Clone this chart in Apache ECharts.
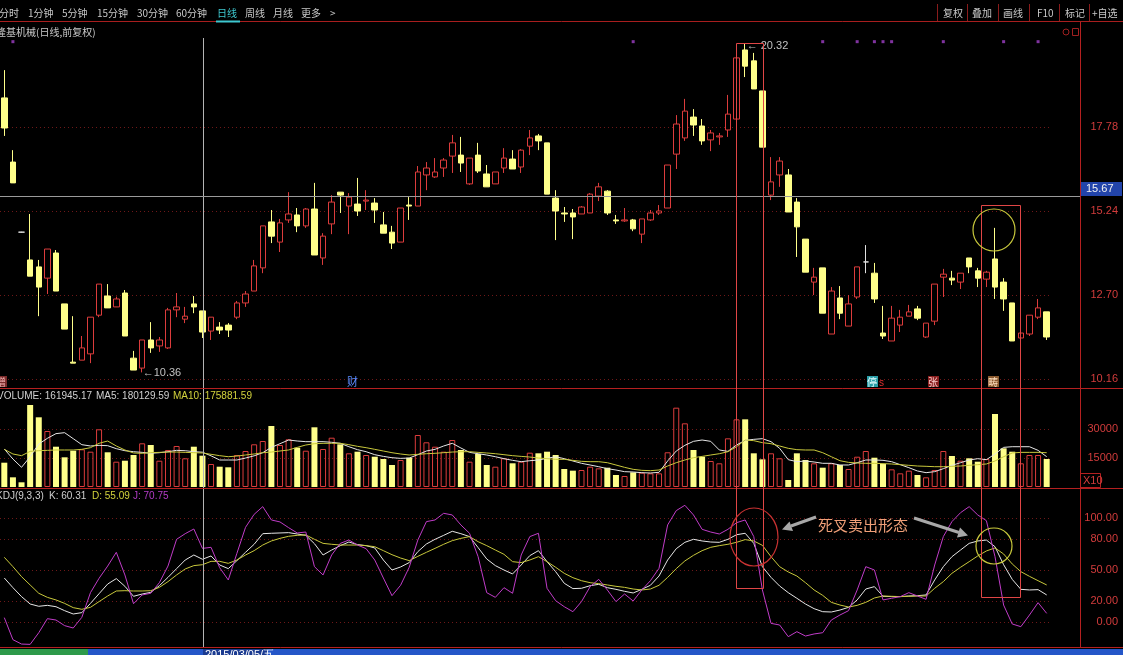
<!DOCTYPE html>
<html><head><meta charset="utf-8">
<script src="https://cdn.jsdelivr.net/npm/echarts@6/dist/echarts.min.js"></script>
<style>html,body{margin:0;padding:0;background:#000;overflow:hidden}#c{width:1123px;height:655px}</style>
</head><body><div id="c"></div>
<script>
// ---- price data (OHLC), one entry per trading day ----
const opens = [18.66,16.72,14.60,13.76,13.55,13.21,13.97,12.43,10.67,10.73,
10.92,12.09,12.67,12.34,12.76,10.79,10.49,11.34,11.16,11.10,
12.25,11.97,12.43,12.22,11.61,11.73,11.79,12.03,12.46,12.82,
13.52,14.91,14.30,14.97,15.12,14.79,15.30,13.82,14.85,15.81,
15.39,15.45,15.54,15.48,14.82,14.60,14.30,15.42,15.39,16.33,
16.27,16.54,16.90,16.93,16.06,16.93,16.36,16.06,16.54,16.81,
16.57,17.20,17.51,17.30,15.63,15.18,15.18,15.15,15.18,15.69,
15.84,14.97,14.94,14.97,14.54,14.97,15.18,15.33,16.96,17.45,
18.08,17.81,17.39,17.48,17.69,18.02,20.11,19.78,18.87,15.72,
16.33,16.33,15.51,14.39,13.09,13.52,11.52,12.61,11.76,12.64,
13.70,13.36,11.55,11.31,11.79,12.06,12.28,11.43,11.91,13.24,
13.21,13.09,13.82,13.43,13.18,13.79,13.09,12.46,11.40,11.52,
12.03,12.19];
const closes = [17.75,16.09,14.60,13.27,12.94,14.09,12.82,11.67,10.64,11.10,
12.03,13.03,12.31,12.58,11.46,10.43,11.34,11.10,11.34,12.25,
12.34,12.06,12.34,11.58,12.03,11.64,11.64,12.46,12.73,13.58,
14.79,14.48,14.88,15.15,14.79,15.30,13.91,14.48,15.51,15.72,
15.66,15.24,15.57,15.27,14.57,14.27,15.33,15.39,16.42,16.54,
16.42,16.78,17.30,16.69,16.84,16.45,15.97,16.42,16.84,16.51,
17.08,17.45,17.36,15.75,15.24,15.15,15.06,15.36,15.75,15.97,
15.18,14.94,14.97,14.70,15.00,15.18,15.24,16.63,17.87,18.26,
17.84,17.36,17.60,17.51,18.17,19.87,19.62,18.93,17.17,16.12,
16.75,15.21,14.76,13.39,13.24,12.15,12.82,12.15,12.43,13.55,
13.70,12.58,11.46,12.00,12.03,12.19,12.00,11.85,13.03,13.33,
13.15,13.36,13.55,13.21,13.39,12.94,12.58,11.31,11.55,12.09,
12.31,11.43];
const lows = [17.51,16.09,14.59,13.27,12.06,12.73,12.82,11.67,10.64,10.73,
10.64,12.03,12.31,12.34,11.46,10.43,10.36,10.95,10.98,11.07,
12.03,11.85,12.15,11.40,11.34,11.52,11.43,11.97,12.34,12.82,
13.36,14.27,14.00,14.88,14.60,14.73,13.91,13.61,14.54,15.18,
14.54,15.09,15.27,14.88,14.57,14.09,14.30,14.97,15.39,15.87,
16.24,16.27,16.39,16.42,16.03,16.39,15.97,16.06,16.39,16.51,
16.39,16.93,17.08,15.75,14.36,14.91,14.39,15.15,15.18,15.54,
15.12,14.85,14.91,14.63,14.27,14.94,15.12,15.33,16.51,17.36,
17.51,17.24,17.05,17.24,17.48,17.78,19.29,18.93,17.17,15.57,
15.97,15.21,13.85,13.39,12.70,12.15,11.52,11.97,11.76,12.58,
13.36,12.46,11.37,11.31,11.58,12.06,11.94,11.40,11.79,12.64,
13.00,12.88,13.36,12.94,12.94,12.58,12.22,11.31,11.01,11.46,
11.97,11.34];
const highs = [19.50,17.08,14.61,15.15,13.76,14.09,14.06,12.43,12.06,11.46,
12.03,13.03,13.03,12.65,12.85,11.01,11.34,11.88,11.43,12.31,
12.76,12.34,12.67,12.22,12.03,11.88,11.85,12.52,12.82,13.76,
14.79,15.27,15.00,15.81,15.33,15.33,16.09,14.57,15.72,15.81,
15.78,16.24,15.87,15.63,15.21,14.79,15.33,15.66,16.60,16.72,
16.84,16.84,17.54,17.48,16.84,17.30,16.63,16.42,17.14,17.08,
17.11,17.69,17.57,17.30,15.87,15.36,15.30,15.39,15.78,16.09,
15.87,15.12,15.33,15.00,15.00,15.27,15.42,16.63,18.14,18.63,
18.32,18.02,17.69,17.60,18.75,19.87,20.32,20.02,18.87,16.87,
16.87,16.51,15.63,14.39,13.52,13.52,12.94,12.97,12.70,13.55,
14.21,13.67,12.37,12.37,12.25,12.40,12.37,11.85,13.03,13.49,
13.43,13.36,13.82,13.52,13.43,14.73,13.21,12.46,11.67,12.09,
12.58,12.19];

// ---- volume (raw, axis shows x10) ----
const volumes = [125700,50100,24300,424100,360500,289600,208400,153600,187700,195000,
182600,298400,179500,130900,136000,165500,226000,217200,136000,191400,
212100,148400,208400,161945,119000,105000,101900,165500,186200,220800,
237900,315500,217200,246700,203300,187700,308800,196500,255000,220800,
174300,182600,165500,156700,144800,113800,139600,151500,268900,231200,
208400,182600,243100,191400,130900,170700,113800,105000,148400,122600,
130900,177400,174300,182600,165500,93100,84500,87900,105000,96500,
99900,62100,56900,75900,74100,70700,70700,179500,410300,329300,
191400,156700,134500,122600,251700,350000,350000,174300,143100,174300,
148400,36200,174300,139600,122600,99900,122600,113800,93100,156700,
186200,151500,119000,91400,70700,84500,62100,50100,87900,186200,
160300,136000,148400,130900,144800,377600,200100,182600,122600,165500,
165500,144800];
const volMA5 = [196500,144800,101900,156700,222400,251700,276000,281000,250000,218900,
212100,215500,213800,198300,187700,182600,179100,174300,177400,182600,
189600,187700,182600,180130,161200,139600,139600,139600,149800,161200,
177400,205000,224000,243100,237900,234500,234500,234500,231200,226000,
208400,193000,182600,167200,158400,151500,148100,149800,167200,186200,
194800,212100,226000,201800,179100,172200,165500,156700,146500,137900,
131000,136000,139600,148400,156700,146500,134500,122600,113800,105000,
94800,87900,79300,77600,74100,72400,75900,134500,186200,215500,
236200,243100,236200,191400,184300,217200,241400,246500,249900,234500,
200100,141300,131000,134500,129300,122600,122600,113800,113800,125700,
139600,139600,137900,131000,115500,100000,82800,74100,79300,94800,
112100,125700,139600,146500,141300,170700,205000,208400,208400,208400,
189600,156700];
const volMA10 = [194800,170700,162100,184300,187700,189600,191400,191400,191400,194800,
203400,226000,237900,212100,191400,175900,174300,177400,179100,180800,
180800,179100,177400,175882,169000,162100,156700,160000,165500,170700,
177400,180800,186200,191400,205000,217200,224000,226000,226000,226000,
218900,210300,203400,194800,186200,177400,170700,165500,169000,172200,
174300,177400,180800,182600,182600,179100,175900,172200,167200,162100,
158400,155000,149800,146500,143100,143100,137900,132700,131000,131000,
125700,113800,101700,91400,86200,84500,87900,108600,125700,139600,
151500,158400,165500,172200,182600,208400,243100,239700,229300,224000,
212100,200100,193100,191400,191400,177400,156700,136000,127400,124100,
122600,122600,120900,119000,115500,112100,108600,107000,105000,105000,
107000,108600,112100,115500,119000,134500,156700,175900,179100,179100,
179100,177400];

// ---- KDJ(9,3,3) ----
const kLine = [42.3,33.0,24.4,17.3,15.1,16.0,14.7,10.9,7.7,9.0,
17.9,27.2,36.5,41.7,34.3,24.7,26.9,28.5,34.9,42.9,
51.3,59.6,64.4,60.31,63.5,54.8,51.3,59.0,67.0,74.7,
84.9,85.3,85.6,85.9,84.6,83.3,75.3,64.4,69.2,73.4,
76.9,74.4,73.4,71.2,59.6,50.0,52.9,57.1,67.6,75.0,
79.5,83.3,87.2,84.9,82.1,71.5,60.6,54.2,50.0,46.2,
54.8,63.8,68.6,58.0,48.4,37.2,32.1,32.4,34.9,36.2,
33.0,31.4,29.5,27.9,31.4,35.3,44.2,59.6,70.5,76.6,
79.5,77.9,76.9,76.6,79.5,83.9,85.3,75.6,53.2,42.9,
34.6,28.2,22.8,17.3,12.8,9.9,9.6,11.5,14.1,21.2,
31.7,34.0,24.7,24.4,24.4,25.0,25.3,26.0,40.4,53.2,
62.8,69.2,75.6,77.9,78.8,72.4,55.1,41.0,31.4,30.8,
31.1,26.0];
const dLine = [62.2,53.2,43.6,35.6,27.6,23.7,21.2,17.9,13.8,12.2,
14.1,19.6,25.0,29.8,30.1,29.8,29.8,30.1,33.3,38.8,
45.2,51.0,54.2,55.09,58.3,58.3,56.4,59.6,64.4,68.6,
74.0,77.9,80.4,82.4,83.3,83.7,79.5,75.6,74.7,74.0,
74.0,74.0,73.4,72.4,68.6,64.7,61.5,59.0,63.1,67.0,
70.8,74.7,78.2,80.4,82.1,77.2,73.4,69.2,65.1,58.0,
57.1,59.6,62.8,58.0,52.6,46.8,42.6,39.7,37.8,36.9,
35.6,34.3,33.3,31.7,30.8,31.7,35.3,42.9,51.3,58.7,
64.1,68.6,71.8,73.4,74.7,76.6,79.2,77.9,73.7,62.8,
53.2,48.1,44.2,37.8,30.8,25.6,18.9,16.3,14.4,16.0,
18.9,23.1,25.0,24.7,24.4,24.7,25.0,25.0,32.4,38.8,
46.8,52.6,58.0,63.5,68.3,71.2,65.4,55.8,48.4,43.9,
39.7,35.6];
const jLine = [4.2,-17.0,-21.2,-21.5,-10.3,3.2,1.9,-3.5,-5.8,4.5,
28.2,42.0,53.8,67.0,45.2,17.6,26.0,27.6,37.8,53.8,
79.5,84.9,89.4,70.75,71.8,52.2,40.4,66.0,91.0,103.5,
110.9,98.1,96.2,90.7,85.6,86.5,53.2,45.2,64.4,75.6,
78.8,74.0,70.5,59.6,42.3,25.3,35.3,52.6,78.8,96.5,
98.1,104.5,102.9,93.3,85.3,62.8,28.2,23.7,33.0,27.6,
64.4,82.1,85.3,32.4,20.5,14.7,9.9,19.6,34.0,41.0,
30.8,19.6,26.9,20.2,30.8,39.7,51.6,93.3,107.1,112.2,
102.9,89.1,86.5,84.6,89.1,95.5,98.1,82.1,30.8,-1.3,
-2.9,-14.1,-9.3,-13.5,-11.5,-10.3,1.9,6.7,10.9,30.8,
53.2,50.0,21.2,22.8,24.4,28.2,25.0,21.8,54.8,82.1,
96.5,105.1,110.9,102.9,97.4,62.8,16.3,-1.9,-4.5,6.7,
18.6,8.3];

// ---- axis tick labels ----
const priceTicks = [10.16, 12.70, 15.24, 17.78];
const volTicks = [150000, 300000];
const kdjTicks = [0, 20, 50, 80, 100];
// days carrying small purple markers at the top of the price panel (1-based)
const markerDays = [2, 74, 96, 100, 102, 103, 104, 110, 117, 121];

const N = opens.length;
const cats = opens.map((_, i) => String(i + 1));
const UP = '#dc3c3c', DOWN = '#ffff8a', FLAT = '#e0e0e0';
const isUp = i => closes[i] > opens[i] || (closes[i] === opens[i] && i > 0 && closes[i] >= closes[i-1]);

const candleData = opens.map((o, i) => {
  const item = { value: [o, closes[i], lows[i], highs[i]] };
  if (o === closes[i]) item.itemStyle = { borderColor: FLAT, borderColor0: FLAT, color: FLAT, color0: FLAT };
  return item;
});
const volData = volumes.map((v, i) => ({
  value: v,
  itemStyle: isUp(i) ? { color: 'rgba(0,0,0,0)', borderColor: UP, borderWidth: 1 }
                     : { color: DOWN, borderColor: DOWN, borderWidth: 0 }
}));

const GL = -3, GW = 1054;
const gridLine = { show: true, lineStyle: { color: '#6e1818', type: [1, 3], width: 1 } };
const yLabel = (vals, fmt) => ({
  customValues: vals, formatter: fmt, color: '#d23c3c', fontSize: 11,
  fontFamily: 'Liberation Sans, Arial, sans-serif', align: 'right', margin: 38
});
const xCat = gi => ({ type: 'category', gridIndex: gi, data: cats, boundaryGap: true,
  axisLine: { show: false }, axisTick: { show: false }, axisLabel: { show: false }, splitLine: { show: false } });

const CJK = '"Noto Sans CJK SC", sans-serif';
const NUM = '"Liberation Sans", Arial, sans-serif';
function T(x, y, text, fill, size, font, extra) {
  return Object.assign({ type: 'text', x, y, silent: true, z: 50,
    style: { text, fill, font: size + 'px ' + (font || CJK), verticalAlign: 'middle', align: 'left' } }, extra || {});
}
function L(x1, y1, x2, y2, stroke, w, z) {
  return { type: 'line', silent: true, z: z || 40, shape: { x1, y1, x2, y2 }, style: { stroke, lineWidth: w || 1 } };
}
function R(x, y, w, h, stroke, fill, z) {
  return { type: 'rect', silent: true, z: z || 40, shape: { x, y, width: w, height: h },
    style: { stroke: stroke || null, fill: fill || null, lineWidth: 1 } };
}

const graphics = [];
// toolbar
const tb = [['分时', -1], ['1分钟', 28], ['5分钟', 62], ['15分钟', 97], ['30分钟', 137], ['60分钟', 176], ['周线', 245], ['月线', 273], ['更多', 301], ['>', 330]];
tb.forEach(t => graphics.push(T(t[1], 13, t[0], '#c8c8c8', 10)));
graphics.push(T(217, 13, '日线', '#3ec8d0', 10));
graphics.push(L(216, 21.5, 240, 21.5, '#3ec8d0', 2, 45));
const tr = [['复权', 943], ['叠加', 972], ['画线', 1003], ['F10', 1037], ['标记', 1065], ['+自选', 1092]];
tr.forEach(t => graphics.push(T(t[1], 13, t[0], '#c8c8c8', 10)));
[937, 967, 998, 1029, 1059, 1089].forEach(x => graphics.push(L(x + .5, 4, x + .5, 21, '#8a1c1c', 1)));
graphics.push(L(0, 21.5, 1123, 21.5, '#a81e1e', 1));
graphics.push(T(-4, 32, '隆基机械(日线,前复权)', '#c8c8c8', 10));
// small icons top right
graphics.push({ type: 'circle', silent: true, z: 40, shape: { cx: 1066, cy: 32, r: 3 }, style: { stroke: '#a02020', fill: null } });
graphics.push(R(1072.5, 28.5, 6, 7, '#a02020', null));
// panel frame
graphics.push(L(1080.5, 22, 1080.5, 648, '#b42020', 1));
graphics.push(L(0, 388.5, 1123, 388.5, '#b42020', 1));
graphics.push(L(0, 488.5, 1123, 488.5, '#b42020', 1));
graphics.push(L(0, 647.5, 1123, 647.5, '#b42020', 1));
graphics.push(R(1080.5, 473.5, 20, 14, '#b42020', null));
graphics.push(T(1083, 481, 'X10', '#d23c3c', 11, NUM));
// crosshair
graphics.push(L(203.5, 38, 203.5, 648, '#b4b4b4', 1, 30));
graphics.push(L(0, 196.5, 1080, 196.5, '#9a9a9a', 1, 30));
graphics.push(R(1081, 182, 41, 14, null, '#2244aa', 45));
graphics.push(T(1086, 189, '15.67', '#f0f0f0', 11, NUM, { z: 46 }));
// headers
graphics.push(T(-3, 396, 'VOLUME: 161945.17', '#d0d0d0', 10, NUM));
graphics.push(T(96, 396, 'MA5: 180129.59', '#d0d0d0', 10, NUM));
graphics.push(T(173, 396, 'MA10: 175881.59', '#d2d23c', 10, NUM));
graphics.push(T(-4, 496, 'KDJ(9,3,3)', '#d0d0d0', 10, NUM));
graphics.push(T(49, 496, 'K: 60.31', '#d0d0d0', 10, NUM));
graphics.push(T(92, 496, 'D: 55.09', '#d2d23c', 10, NUM));
graphics.push(T(133, 496, 'J: 70.75', '#b43cc8', 10, NUM));
// event tags along the bottom of the price panel
graphics.push(R(-4, 376, 11, 11, null, '#7a2a2a'));
graphics.push(T(-4, 382, '增', '#f0b0b0', 10));
graphics.push(T(347, 382, '财', '#5a8cff', 11));
graphics.push(R(867, 376, 11, 11, null, '#2a9ea8'));
graphics.push(T(867, 382, '停', '#e8ffff', 10));
graphics.push(T(879, 383, 's', '#e03030', 10, NUM));
graphics.push(R(928, 376, 11, 11, null, '#8a2020'));
graphics.push(T(928, 382, '张', '#ffd0d0', 10));
graphics.push(R(988, 376, 11, 11, null, '#8a5a30'));
graphics.push(T(988, 382, '畴', '#ffe0c0', 10));
// annotation boxes and circles
graphics.push(R(736.5, 43.5, 27, 545, '#e04646', null, 60));
graphics.push(R(981.5, 205.5, 39, 392, '#e04646', null, 60));
graphics.push({ type: 'circle', silent: true, z: 60, shape: { cx: 994, cy: 230, r: 21 }, style: { stroke: '#c8c83c', fill: null, lineWidth: 1.2 } });
graphics.push({ type: 'ellipse', silent: true, z: 60, shape: { cx: 754, cy: 537, rx: 24, ry: 29 }, style: { stroke: '#c83232', fill: null, lineWidth: 1.2 } });
graphics.push({ type: 'circle', silent: true, z: 60, shape: { cx: 994, cy: 546, r: 18 }, style: { stroke: '#c8c83c', fill: null, lineWidth: 1.2 } });
graphics.push(T(818, 525, '死叉卖出形态', '#f0a078', 15));
// arrows
graphics.push(L(816, 517, 791, 526, '#a8a8a8', 3, 60));
graphics.push({ type: 'polygon', silent: true, z: 60, shape: { points: [[782, 529.5], [793, 531], [789.5, 521.5]] }, style: { fill: '#a8a8a8' } });
graphics.push(L(914, 518, 959, 532.5, '#a8a8a8', 3, 60));
graphics.push({ type: 'polygon', silent: true, z: 60, shape: { points: [[968, 535.5], [957, 537.5], [960, 527.5]] }, style: { fill: '#a8a8a8' } });
// bottom date strip
graphics.push(R(0, 649, 1123, 6, null, '#2456c8', 20));
graphics.push(R(0, 649, 88, 6, null, '#2e9a4a', 21));
graphics.push(R(203, 649, 64, 6, null, '#1a3a90', 22));
graphics.push(T(205, 655, '2015/03/05/五', '#ffffff', 11, NUM, { z: 23 }));

const chart = echarts.init(document.getElementById('c'), null, { renderer: 'canvas' });
chart.setOption({
  backgroundColor: '#000000',
  animation: false,
  grid: [
    { left: GL, width: GW, top: 38, height: 350 },
    { left: GL, width: GW, top: 390, height: 97 },
    { left: GL, width: GW, top: 490, height: 158 }
  ],
  xAxis: [xCat(0), xCat(1), xCat(2)],
  yAxis: [
    { type: 'value', gridIndex: 0, position: 'right', offset: 29, min: 9.888, max: 20.471, scale: true,
      axisLine: { show: false }, axisTick: { show: false, customValues: priceTicks },
      axisLabel: yLabel(priceTicks, v => v.toFixed(2)), splitLine: gridLine },
    { type: 'value', gridIndex: 1, position: 'right', offset: 29, min: 0, max: 501724,
      axisLine: { show: false }, axisTick: { show: false, customValues: volTicks },
      axisLabel: yLabel(volTicks, v => String(Math.round(v / 10))), splitLine: gridLine },
    { type: 'value', gridIndex: 2, position: 'right', offset: 29, min: -25, max: 126.9,
      axisLine: { show: false }, axisTick: { show: false, customValues: kdjTicks },
      axisLabel: yLabel(kdjTicks, v => v.toFixed(2)), splitLine: gridLine }
  ],
  series: [
    { type: 'candlestick', xAxisIndex: 0, yAxisIndex: 0, barWidth: 6, data: candleData,
      itemStyle: { color: '#000000', color0: DOWN, borderColor: UP, borderColor0: DOWN, borderWidth: 1 },
      markPoint: { symbol: 'circle', symbolSize: 1, itemStyle: { color: 'rgba(0,0,0,0)' },
        label: { show: true, position: 'right', distance: 0, color: '#c0c0c0', fontSize: 11, fontFamily: NUM },
        data: [
          { coord: [16, 10.36], label: { formatter: '←10.36', offset: [0, 1] } },
          { coord: [86, 20.32], label: { formatter: '← 20.32', offset: [1, 3] } }
        ] } },
    { type: 'scatter', xAxisIndex: 0, yAxisIndex: 0, symbol: 'rect', symbolSize: 3,
      itemStyle: { color: '#a040c8' }, data: markerDays.map(d => [d - 1, 20.36]) },
    { type: 'bar', xAxisIndex: 1, yAxisIndex: 1, barWidth: 6, data: volData },
    { type: 'line', xAxisIndex: 1, yAxisIndex: 1, data: volMA5, symbol: 'none', lineStyle: { color: '#e6e6e6', width: 1 } },
    { type: 'line', xAxisIndex: 1, yAxisIndex: 1, data: volMA10, symbol: 'none', lineStyle: { color: '#c8c83c', width: 1 } },
    { type: 'line', xAxisIndex: 2, yAxisIndex: 2, data: kLine, symbol: 'none', lineStyle: { color: '#e6e6e6', width: 1 } },
    { type: 'line', xAxisIndex: 2, yAxisIndex: 2, data: dLine, symbol: 'none', lineStyle: { color: '#c8c83c', width: 1 } },
    { type: 'line', xAxisIndex: 2, yAxisIndex: 2, data: jLine, symbol: 'none', lineStyle: { color: '#c03cc8', width: 1 } }
  ],
  graphic: graphics
});
</script>
</body></html>
